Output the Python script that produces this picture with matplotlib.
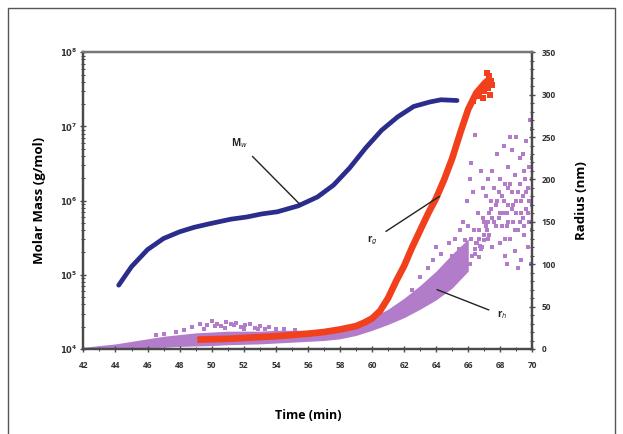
''' Molar mass and radius vs elution time (AF4-MALS style figure)
'''

import math
import matplotlib
matplotlib.use('Agg')
import matplotlib.pyplot as plt  # noqa E402
from matplotlib.patches import Rectangle  # noqa E402
from matplotlib.ticker import MultipleLocator, LogLocator  # noqa E402

plt.rcParams['font.family'] = ['Open Sans', 'DejaVu Sans']

# weight-average molar mass (g/mol), left log axis
mw_time = [44.2, 45.0, 46.0, 47.0, 48.0, 48.9, 49.9, 51.2, 52.2, 53.1, 54.1,
           55.4, 56.6, 57.6, 58.6, 59.6, 60.6, 61.6, 62.6, 63.6, 64.3, 65.3]
mw_log = [4.86, 5.11, 5.34, 5.49, 5.58, 5.64, 5.69, 5.75, 5.78, 5.82, 5.85,
          5.93, 6.05, 6.21, 6.44, 6.71, 6.95, 7.13, 7.27, 7.33, 7.36, 7.35]
mw_value = [10 ** v for v in mw_log]

# radius of gyration rg (nm), right axis
rg_time = [49.1, 50, 51, 52, 53, 54, 55, 56, 57, 58, 59, 59.5, 60, 60.5,
           61, 61.5, 62, 62.5, 63, 63.5, 64, 64.5, 65, 65.5, 66, 66.5, 67, 67.4]
rg_radius = [11, 11.5, 12, 13, 14, 15, 16.5, 18, 20, 23, 27, 31, 36, 45,
             60, 80, 98, 120, 140, 160, 178, 200, 225, 255, 283, 302, 313, 320]
rg_tail_time = [66.3, 66.6, 66.8, 67.0, 67.1, 67.2, 67.3, 67.35, 67.4, 66.9,
                67.15, 66.7, 67.25, 67.45]
rg_tail_radius = [292, 300, 306, 304, 314, 310, 322, 300, 316, 296,
                  326, 298, 308, 312]

# hydrodynamic radius rh (nm): dense band and scattered points
rh_band_time = [42, 43, 44, 45, 46, 47, 48, 49, 50, 51, 52, 53, 54, 55, 56,
                57, 58, 59, 60, 61, 62, 63, 64, 65, 66]
rh_band_lo = [0, 0, 0.5, 1, 1.5, 2, 3, 3.5, 4, 5, 5.5, 6, 7, 8, 9,
              10, 12, 16, 22, 29, 37, 47, 58, 72, 92]
rh_band_hi = [2, 4, 6, 9, 12, 15, 17, 19, 20, 21, 21, 21, 22, 22, 22,
              23, 25, 30, 37, 47, 60, 75, 92, 112, 130]
rh_time = [46.5, 47.0, 47.8, 48.3, 48.8, 49.3, 49.7, 50.0, 50.3, 50.6, 50.9,
           51.2, 51.5, 51.8, 52.1, 52.4, 52.7, 53.0, 53.3, 53.6, 54.0, 54.5,
           49.5, 50.2, 50.8, 51.4, 52.0, 52.9, 55.2,
           62.5, 63.0, 63.5, 63.8, 64.0, 64.3, 64.6, 64.8, 65.0, 65.2, 65.4,
           65.5, 65.7, 65.9, 66.1, 66.2, 66.4, 66.3, 66.6, 66.8, 66.9,
           67.0, 67.1, 67.2, 67.3, 67.4, 67.5, 67.5, 67.6, 67.7, 67.8, 67.8,
           67.9, 68.0, 68.0, 68.1, 68.2, 68.2, 68.3, 68.3, 68.4, 68.5, 68.5,
           68.6, 68.7, 68.7, 68.8, 68.9, 68.9, 69.0, 69.0, 69.1, 69.2, 69.2,
           69.3, 69.3, 69.4, 69.5, 69.5, 69.6, 69.6, 69.7, 69.7, 69.8, 69.8,
           69.9, 69.9, 70.0, 70.0, 70.0, 69.85, 69.4, 68.6, 68.4, 69.1,
           66.5, 66.7, 66.9, 67.1, 67.3, 67.4, 67.6, 67.7, 67.9, 68.0,
           68.1, 68.2, 68.4, 68.5, 68.6, 68.8, 68.9, 69.0, 69.1, 69.2,
           69.3, 69.4, 69.5, 69.6, 69.7, 69.8, 69.9, 70.0, 68.3, 68.75,
           67.2, 67.0, 66.8, 68.45, 69.55, 69.95, 65.8, 66.0, 64.4, 63.3,
           66.1, 66.25, 66.4, 66.55, 66.7, 66.85, 67.0, 67.15, 66.2, 66.45,
           66.65, 66.95, 67.25, 65.6, 65.3, 64.9, 64.6, 66.35, 66.75, 67.45]
rh_radius = [16, 18, 20, 22, 26, 30, 28, 33, 30, 27, 32,
             29, 31, 26, 28, 30, 25, 27, 24, 26, 23, 24,
             24, 27, 25, 28, 24, 23, 22,
             70, 85, 95, 105, 120, 112, 98, 125, 110, 130, 118,
             140, 150, 175, 200, 219, 252, 185, 160, 210, 190,
             150, 180, 200, 135, 165, 210, 120, 190, 145, 230, 175,
             155, 200, 125, 180, 240, 160, 110, 195, 145, 215, 170,
             130, 185, 235, 150, 205, 115, 175, 250, 140, 195, 225,
             160, 105, 180, 210, 135, 245, 165, 190, 120, 150, 215,
             175, 100, 200, 140, 260, 270, 230, 250, 100, 95,
             125, 140, 155, 145, 160, 175, 150, 170, 185, 160,
             145, 175, 160, 150, 195, 170, 140, 160, 185, 150,
             175, 155, 145, 185, 160, 175, 150, 170, 130, 165,
             130, 128, 118, 190, 200, 225, 128, 145, 85, 70,
             100, 110, 118, 125, 130, 120, 135, 140, 130, 112,
             108, 128, 150, 118, 105, 98, 88, 140, 122, 155]

blue = '#2a2d8c'
red = '#f2401c'
purple = '#b27ccb'
spine_col = '#4a4a4a'

fig = plt.figure(figsize=(6.23, 4.34), dpi=100)
fig.patches.append(Rectangle((8 / 623, -0.05), 607 / 623, 1.05 - 8 / 434,
                             transform=fig.transFigure, fill=False,
                             edgecolor='#555555', linewidth=1))

ax = fig.add_axes([0.1339, 0.1959, 0.7207, 0.6836])
ax2 = ax.twinx()
ax.set_zorder(ax2.get_zorder() + 1)
ax.patch.set_visible(False)

# rh and rg on the radius axis
ax2.fill_between(rh_band_time, rh_band_lo, rh_band_hi, color=purple,
                 linewidth=0)
ax2.scatter(rh_time, rh_radius, s=9, marker='s', color=purple, linewidths=0)
ax2.plot(rg_time, rg_radius, color=red, linewidth=4.8, solid_capstyle='butt')
ax2.scatter(rg_tail_time, rg_tail_radius, s=16, marker='s', color=red,
            linewidths=0)

# Mw on the log axis
ax.plot(mw_time, mw_value, color=blue, linewidth=3.4, solid_capstyle='round')

ax.set_xlim(42, 70)
ax.set_yscale('log')
ax.set_ylim(1e4, 1e8)
ax2.set_ylim(0, 350)

ax.xaxis.set_major_locator(MultipleLocator(2))
ax.xaxis.set_minor_locator(MultipleLocator(1))
ax.yaxis.set_major_locator(LogLocator(base=10))
ax.yaxis.set_minor_locator(LogLocator(base=10, subs=range(2, 10)))
ax2.yaxis.set_major_locator(MultipleLocator(50))
ax2.yaxis.set_minor_locator(MultipleLocator(10))

tick_font = dict(labelsize=6, labelcolor='#333333', color=spine_col)
ax.tick_params(axis='both', which='major', direction='inout', length=5,
               width=1, **tick_font)
ax.tick_params(axis='both', which='minor', direction='inout', length=3,
               width=0.8, color=spine_col)
ax.tick_params(axis='x', pad=6)
ax.tick_params(axis='y', pad=2)
ax2.tick_params(axis='y', which='major', direction='inout', length=5,
                width=1, pad=4, **tick_font)
ax2.tick_params(axis='y', which='minor', direction='inout', length=3,
                width=0.8, color=spine_col)
ax.yaxis.set_major_formatter(plt.FuncFormatter(
    lambda v, p: r'$\mathbf{10^{%d}}$' % round(math.log10(v))))
for lab in ax.get_xticklabels() + ax2.get_yticklabels():
    lab.set_fontweight('bold')

for a in (ax, ax2):
    for side in a.spines:
        a.spines[side].set_color(spine_col)
        a.spines[side].set_linewidth(1.6)
ax.spines['top'].set_color('#777777')

ax.set_xlabel('Time (min)', fontsize=9, fontweight='bold', labelpad=28)
ax.set_ylabel('Molar Mass (g/mol)', fontsize=9.5, fontweight='bold',
              labelpad=10)
ax2.set_ylabel('Radius (nm)', fontsize=9.5, fontweight='bold', labelpad=14)

# curve labels with leader lines
ax.annotate(r'M$_w$', xy=(55.5, 10 ** 5.95), xytext=(51.7, 10 ** 6.78),
            fontsize=7, fontweight='bold', color='#222222',
            ha='center', va='center',
            arrowprops=dict(arrowstyle='-', color='#222222', lw=1,
                            shrinkA=4, shrinkB=0))
ax2.annotate(r'r$_g$', xy=(64.2, 180), xytext=(60.0, 128),
             fontsize=7, fontweight='bold', color='#222222',
             ha='center', va='center',
             arrowprops=dict(arrowstyle='-', color='#222222', lw=1,
                             shrinkA=5, shrinkB=0))
ax2.annotate(r'r$_h$', xy=(64.05, 70), xytext=(68.1, 40),
             fontsize=7, fontweight='bold', color='#222222',
             ha='center', va='center',
             arrowprops=dict(arrowstyle='-', color='#222222', lw=1,
                             shrinkA=4, shrinkB=0))

fig.savefig('out.png', dpi=100)
plt.close(fig)
